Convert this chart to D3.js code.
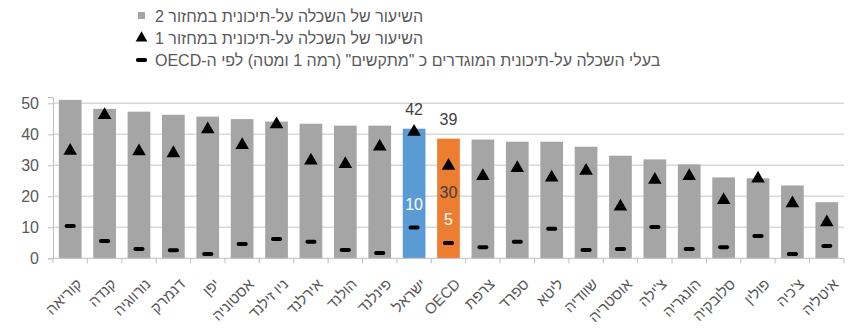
<!DOCTYPE html>
<html><head><meta charset="utf-8">
<script src="https://cdn.jsdelivr.net/npm/d3@7"></script>
<style>
html,body{margin:0;padding:0;background:#fff;}
svg{display:block;font-family:"Liberation Sans",Arial,sans-serif;}
</style></head>
<body>
<svg id="chart" width="855" height="332"></svg>
<script>
const categories = ["קוריאה","קנדה","נורווגיה","דנמרק","יפן","אסטוניה","ניו זילנד","אירלנד","הולנד","פינלנד","ישראל","OECD","צרפת","ספרד","ליטא","שוודיה","אוסטריה","צ'ילה","הונגריה","סלובקיה","פולין","צ'כיה","איטליה"];
const cycle2 = [51.1,48.2,47.3,46.3,45.7,44.9,44.1,43.4,42.8,42.8,41.8,38.6,38.3,37.6,37.6,36.0,33.1,31.9,30.3,26.1,25.8,23.5,18.1];
const cycle1 = [34.7,46.2,34.5,33.9,41.6,36.5,43.2,31.5,30.4,36.0,40.8,29.8,26.5,29.1,26.0,28.2,16.7,25.3,26.5,18.8,25.7,17.7,11.6];
const struggling = [10.4,5.6,3.0,2.6,1.4,4.6,6.2,5.3,2.7,1.7,9.9,4.9,3.6,5.3,9.5,2.7,3.0,10.1,3.0,3.6,7.2,1.4,4.0];
const yTicks = [0,10,20,30,40,50];
const legendLabels = ["השיעור של השכלה על-תיכונית במחזור 2","השיעור של השכלה על-תיכונית במחזור 1","בעלי השכלה על-תיכונית המוגדרים כ \"מתקשים\" (רמה 1 ומטה) לפי ה-OECD"];
const highlightCats = ["ישראל","OECD"];
const highlightColors = ["#5B9BD5","#ED7D31"];
</script>
<script>
(function(){
const svg = d3.select("#chart");
const L = 53, R = 844, T = 97.1, B = 258.3;
const x = d3.scaleBand().domain(categories).range([L,R]).paddingInner(0.34).paddingOuter(0.17);
const y = d3.scaleLinear().domain([0,52]).range([B,T]);
const textColor = "#595959";
const color = d3.scaleOrdinal().domain(highlightCats).range(highlightColors).unknown("#A5A5A5");

svg.append("g").selectAll("line").data(yTicks.filter(d=>d>0)).join("line")
  .attr("x1",L).attr("x2",R).attr("y1",d=>y(d)).attr("y2",d=>y(d))
  .attr("stroke","#d9d9d9").attr("stroke-width",1.5);

svg.append("g").selectAll("rect").data(categories).join("rect")
  .attr("x",d=>x(d)).attr("width",x.bandwidth())
  .attr("y",(d,i)=>y(cycle2[i])).attr("height",(d,i)=>B-y(cycle2[i]))
  .attr("fill",d=>color(d));

const yAxis = svg.append("g").attr("transform",`translate(${L},0)`)
  .call(d3.axisLeft(y).tickValues(yTicks).tickSize(5).tickPadding(9));
yAxis.select(".domain").attr("stroke","#bfbfbf");
yAxis.selectAll(".tick line").attr("stroke","#bfbfbf");
yAxis.selectAll(".tick text").attr("fill",textColor).attr("font-size",16).attr("font-family","Liberation Sans, Arial, sans-serif");

const xg = svg.append("g");
xg.append("line").attr("x1",L).attr("x2",R).attr("y1",B).attr("y2",B).attr("stroke","#bfbfbf");
const bounds = categories.map(c=>x(c)-x.step()*x.paddingInner()/2).concat([R]);
xg.selectAll("line.t").data(bounds).join("line").attr("class","t")
  .attr("x1",d=>d).attr("x2",d=>d).attr("y1",B).attr("y2",B+5).attr("stroke","#bfbfbf");
xg.selectAll("text").data(categories).join("text")
  .attr("transform",d=>`translate(${x(d)+x.bandwidth()/2+9},${B+23}) rotate(-45)`)
  .attr("text-anchor","end").attr("dy","0.35em")
  .attr("font-size",15).attr("fill",textColor).text(d=>d);

const tri = d3.symbol().type(d3.symbolTriangle).size(80);
svg.append("g").selectAll("path").data(categories).join("path")
  .attr("d",tri).attr("fill","#000")
  .attr("transform",(d,i)=>`translate(${x(d)+x.bandwidth()/2},${y(cycle1[i])})`);
svg.append("g").selectAll("rect").data(categories).join("rect")
  .attr("x",d=>x(d)+x.bandwidth()/2-5.5).attr("width",11)
  .attr("y",(d,i)=>y(struggling[i])-2).attr("height",4).attr("rx",1.8)
  .attr("fill","#000");

const lbl = svg.append("g").attr("font-size",16).attr("text-anchor","middle");
highlightCats.forEach(c=>{
  const i = categories.indexOf(c), cx = x(c)+x.bandwidth()/2;
  lbl.append("text").attr("x",cx).attr("y",y(cycle2[i])-14).attr("fill","#404040").text(Math.round(cycle2[i]));
  lbl.append("text").attr("x",cx).attr("y",y(struggling[i])-18).attr("fill","#ffffff").text(Math.round(struggling[i]));
});
{
  const c = "OECD", i = categories.indexOf(c);
  lbl.append("text").attr("x",x(c)+x.bandwidth()/2).attr("y",y(cycle1[i])+32).attr("fill","#404040").text(Math.round(cycle1[i]));
}

const lg = svg.append("g");
const lx = 155, ly = [22,44,66];
lg.append("rect").attr("x",138).attr("y",ly[0]-10).attr("width",7).attr("height",7).attr("fill","#A5A5A5");
lg.append("path").attr("d",d3.symbol().type(d3.symbolTriangle).size(60)).attr("transform",`translate(141.5,${ly[1]-6})`).attr("fill","#000");
lg.append("rect").attr("x",136).attr("y",ly[2]-8).attr("width",11).attr("height",4).attr("rx",1.8).attr("fill","#000");
lg.selectAll("text").data(legendLabels).join("text")
  .attr("x",lx).attr("y",(d,i)=>ly[i]).attr("direction","rtl").attr("text-anchor","end")
  .attr("font-size",16).attr("fill",textColor).text(d=>d);
})();
</script>
</body></html>
